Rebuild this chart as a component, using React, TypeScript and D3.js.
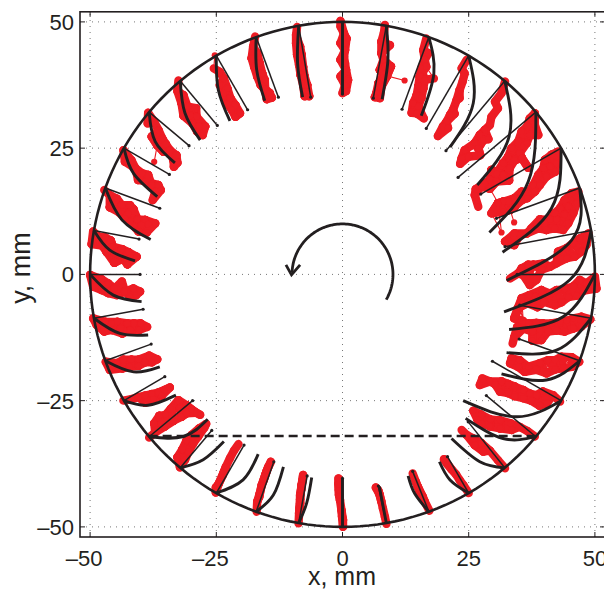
import React from "react";
import * as d3 from "d3";

type P = [number, number];

const xTicks = [-50, -25, 0, 25, 50];
const yTicks = [-50, -25, 0, 25, 50];
const rimRadius = 50;
const dashY = -32;
const dashHalf = 38.4;

const vaneAngles = [90,80,70,60,50,40,30,20,10,0,-10,-20,-30,-40,-50,-60,-70,-80,-90,-100,-110,-120,-130,-140,-150,-160,-170,180,170,160,150,140,130,120,110,100];
const chordEnds: P[] = [[0,35.7],[6.1,34.9],[11.8,32.7],[16.6,28.9],[20.5,24.5],[22.9,19.2],[27.4,15.9],[30.5,11.1],[32.2,5.5],[34.6,0],[35.1,-6.1],[35,-12.8],[29.7,-17.2],[28.5,-24],[24.9,-29.2],[20.8,-36.1],[13.9,-39],[7.1,-41.9],[0,-40.4],[-7,-39.9],[-13.6,-37.1],[-19.5,-33.8],[-25.9,-30.9],[-29.7,-25],[-35.2,-20.25],[-37.9,-13.8],[-39.5,-6.9],[-40.1,0],[-40.3,7],[-36.2,13.1],[-34.3,19.8],[-30.4,25.5],[-24.8,29.5],[-18.8,32.6],[-12.7,35.1],[-6.3,35.1]];
const bladeMids: P[] = [[0,43],[9,42.5],[18.1,39.8],[25.9,33.9],[33,27.3],[36.8,18.4],[41.4,13.1],[45.4,6.8],[45,-1.1],[43.7,-8.4],[42.4,-15],[40.4,-20.9],[34.5,-28.2],[31.8,-32.5],[27.2,-37.1],[21.3,-40.7],[14.3,-43.4],[8,-45.7],[0,-45],[-7.1,-45.3],[-13.7,-43.7],[-19.7,-40.7],[-27.6,-36.7],[-31.5,-32.1],[-38.5,-25.9],[-41.4,-19.3],[-44.1,-11.7],[-45.4,-4.1],[-46.1,4.8],[-43.7,10.8],[-41.4,20],[-37.1,26.3],[-31.2,31.9],[-24.6,36.5],[-17,40.5],[-8.9,41.8]];
const bladeEnds: P[] = [[0,35.7],[7.85,34.7],[15.6,31.4],[21.3,25.2],[26.7,17.7],[29.1,8.3],[31.7,4.4],[32.5,-1.2],[32,-7.4],[33,-10.9],[32.5,-15.5],[31.5,-19.7],[23.9,-25],[24.4,-28.5],[21.6,-32.5],[19.2,-37.1],[13,-39.9],[7.3,-42],[0,-40.4],[-6.1,-40.2],[-11.7,-38.1],[-16.7,-35.6],[-23.5,-33.1],[-26.7,-28.7],[-33,-23.9],[-36.2,-18.3],[-38.5,-12],[-39.8,-5.4],[-41.1,2.7],[-38,6.9],[-36.7,15.4],[-33.2,22.1],[-28.2,26.6],[-22.3,30.4],[-15.4,34.4],[-7.9,35.1]];

const s90: P[] = [[-0.4,50.2],[-0.4,49.1],[0.3,47.7],[0.8,46.7],[0.3,45.8],[-0.4,45.8],[0.5,44.4],[0.3,43.1],[-0.4,42.5],[0.5,41.8],[0.7,40.5],[-0.4,39.2],[1.1,38.5],[0.5,37.5],[0.7,36.3],[0,35.9]];
const s80: P[] = [[8.4,49.4],[7.7,46.1],[9.4,45.4],[8.4,45.1],[7.7,43.8],[8.1,42.5],[8.4,41.1],[9.6,41.2],[8.4,41.1],[7.4,40.5],[8.1,39.5],[8.8,39.3],[12.3,38.4],[8.8,39.3],[7.1,37.8],[7.7,37.2],[6.7,35.9],[7.4,34.9],[6.4,35.1],[8.2,47.8]];
const s70: P[] = [[16.6,46.7],[16,44.4],[17,43.8],[16.3,42.5],[15.6,40.8],[16.6,41.1],[18.1,38.8],[15.3,39.2],[16.3,38.5],[15,37.2],[16,36.8],[14.7,35.5],[15.6,34.9],[14,33.9],[15,33.2],[13.7,32],[14.7,31.9],[16.1,30.9]];
const s60: P[] = [[24.6,42.5],[23.6,40.8],[24.2,39.8],[23.8,38.2],[23.2,36.5],[23.2,34.9],[22.6,34.5],[21.9,32.6],[22.2,31.8],[21.3,31.6],[20.6,30.2],[19.9,29.3],[20.9,29],[18.9,27.4]];
const s50: P[] = [[32.2,38.2],[31.5,35.9],[30.2,34.2],[30.8,32.9],[29.5,31.2],[29.2,29.6],[28.2,28.6],[27.2,27.6],[27.9,26.6],[28.9,26.8],[26.2,26],[26.9,25],[27.3,23.6],[26.9,25],[24.2,24.6],[24.9,23.3],[23.6,23],[23.3,21.9]];
const s40: P[] = [[38.1,31.9],[37.1,30.9],[38.1,29.6],[38.8,27.6],[36.6,29.3],[35.5,28.3],[37.1,27.6],[34.8,26.3],[36.5,26],[33.5,25],[35.1,24],[32.8,23.3],[34.1,22.6],[35.5,23.1],[36.8,21.1],[35.5,23.1],[31.8,22],[33.1,21],[30.5,20],[31.8,19.7],[33,18.6],[31.8,19.7],[29.5,20.7],[29.2,18.7],[30.5,18.4],[28.2,18],[29.2,17],[30.8,14.2],[29.2,17],[26.4,16.9],[27.5,17.4],[26.2,15.7],[26.9,13.4]];
const s30: P[] = [[42.7,24.3],[41.4,23.7],[40.1,22.7],[42.4,22],[41.1,21.3],[39.8,21],[42.1,20.3],[40.4,19.4],[38.8,19.7],[39.1,17.7],[37.8,17.7],[36.8,16.1],[38.1,16.4],[35.5,16.4],[35.5,14.7],[36.6,15.1],[34.1,15.1],[34.1,13.4],[32.8,14.4],[33.2,12.8],[34,10.3],[33.2,12.8],[31.8,14.4],[30.8,14.1],[31.8,12.4],[29.5,12.1],[31.5,8.3],[30.8,14.1]];
const s20: P[] = [[46.7,16.4],[45.4,16.1],[44,14.7],[46.4,14.1],[44.7,13.4],[43.1,13.1],[45.7,12.1],[44,11.8],[42,12.1],[42.4,10.8],[41.1,10.8],[44.7,10.1],[40.1,10.1],[39.1,10.9],[43.7,8.8],[42,9.1],[40.4,8.8],[38.8,9.1],[37.4,9.1],[36.5,8.1],[35.1,7.8],[34.1,8.1],[32.8,6.5],[32.2,6.5],[34,5.8]];
const s10: P[] = [[48.7,8.1],[47,7.1],[48.3,5.8],[45.7,6.2],[47.3,4.5],[44.4,5.2],[46,3.5],[42.7,4.5],[44.4,3.2],[42.4,2.2],[41.1,1.5],[39.8,2.2],[39.4,0.9],[37.8,1.9],[36.8,1.9],[35.5,1.2],[36.8,0.2],[34.8,0.2],[38.4,-1.1],[37.1,-2.1],[35.8,-0.1],[33.2,-0.8]];
const s0: P[] = [[50,-0.45],[50.3,-2.8],[48.3,-1.8],[47,-1.1],[47.8,-3.2],[45.7,-2.4],[46.4,-4.2],[44,-2.9],[44.7,-4.5],[42.4,-3.1],[43.4,-5.5],[41.1,-3.8],[42.1,-6.1],[39.4,-3.1],[39.9,-5.4],[38.1,-4.4],[37,-4.1],[38.6,-6.5],[36.6,-5.7],[35.5,-4.7],[35.8,-9.2],[35.1,-6.4],[34,-8.7],[34.7,-6.7]];
const sM10: P[] = [[49.1,-8.9],[47.3,-8.4],[45.7,-8.7],[47.3,-10.3],[44.4,-9.2],[45.7,-10.7],[43.1,-9.4],[44,-11.3],[41.4,-9.7],[42.4,-11.1],[39.7,-9.7],[40.7,-11.3],[39.4,-13],[39.1,-11],[38.4,-9.6],[37.6,-11.3],[37.6,-13.1],[36.8,-9.7],[35.8,-10.7],[34.6,-10.4],[34,-12.5],[33.7,-13.7]];
const sM20: P[] = [[46.9,-17.3],[45.4,-16.4],[43.4,-16.3],[45.4,-18.3],[42.1,-17],[43.7,-18.6],[40.7,-17],[42.1,-18.8],[39.1,-17.6],[40.4,-19.6],[38.4,-18.9],[36.8,-18.3],[36.1,-19.3],[35.1,-17],[34.8,-18.3],[33.5,-16.6],[33.2,-17.6]];
const sM30: P[] = [[43.1,-25.2],[41.7,-23.9],[39.7,-23.2],[40.5,-25.5],[38.4,-23.9],[39,-26],[37.1,-23.6],[37.4,-25],[35.8,-22.9],[35.8,-24.5],[34.1,-22.2],[34.1,-24.1],[32.8,-21.7],[32.8,-23.5],[31.5,-21.2],[31.2,-23.2],[30.2,-21.7],[29.2,-21.2],[27.7,-20.6],[27.2,-21.9]];
const sM40: P[] = [[38.1,-32.1],[36.6,-31],[35.1,-30.2],[33.3,-29.5],[33.5,-30.8],[31.2,-28.9],[31.2,-30.5],[29.2,-28.7],[29.2,-30.1],[27.5,-27.8],[27.5,-29.5],[25.9,-27],[26.7,-28.7]];
const sM50: P[] = [[32.2,-38.4],[30.8,-36.8],[29.2,-34.9],[27.9,-35.1],[27.5,-33.4],[26.2,-33.8],[25.9,-32.5],[24.6,-31.8],[23.6,-30.8]];
const sM60: P[] = [[25,-43.3],[24,-41.8],[23.2,-40.7],[22.5,-39.6],[21.6,-38.6],[20.7,-37.5],[20.1,-36.6]];
const sM70: P[] = [[17.2,-46.8],[16.3,-45],[15.9,-44],[15.3,-43],[14.9,-42],[14.5,-41],[13.9,-39.4]];
const sM80: P[] = [[8.7,-49.4],[8.4,-48],[8,-46.3],[7.7,-45],[7.4,-43.7],[7.1,-42.8],[6.6,-42.2]];
const sM90: P[] = [[0.1,-50],[0.1,-48.6],[-0.1,-47.9],[-0.2,-46.7],[-0.5,-44.7],[-0.7,-43.7],[-0.7,-42.7],[-0.8,-41.4],[-0.8,-40.4]];
const sM100: P[] = [[-8.7,-49.3],[-8.6,-47.3],[-8.5,-46.3],[-8.4,-45.3],[-8.4,-44.5],[-8.4,-43.7],[-8.2,-42.7],[-8.1,-41.7],[-7.9,-40.7],[-7.8,-39.7]];
const sM110: P[] = [[-17,-47],[-16.9,-45],[-16.5,-44.1],[-16.4,-43.4],[-16,-41.7],[-15.6,-40.7],[-15.3,-39.7],[-15,-38.9],[-14.7,-38.1],[-14.2,-37.1]];
const sM120: P[] = [[-25.1,-43.2],[-25.1,-42.2],[-24.5,-41.4],[-23.7,-39.7],[-23.5,-39.1],[-23.1,-38.1],[-22.3,-36.4],[-21.5,-34.9],[-20.6,-33.6]];
const sM130: P[] = [[-32.2,-38.2],[-32.7,-36.2],[-31.2,-36.7],[-31.7,-34.6],[-30.5,-35.1],[-30.9,-32.9],[-29.6,-33.5],[-29.9,-31.8],[-28.6,-32.1],[-28.4,-30.5],[-27.4,-30.4],[-27,-29.6]];
const sM140: P[] = [[-38.3,-32.3],[-37.1,-31.3],[-37.3,-29.5],[-36,-29.5],[-36.3,-28],[-35,-27.8],[-35.2,-30.1],[-34,-26.6],[-33.5,-29],[-31.9,-28.2],[-32.5,-24.9],[-30.9,-25.9],[-32.2,-26.5],[-29.9,-26.8],[-30.9,-27.5],[-29,-27.4],[-28.2,-27.8]];
const sM150: P[] = [[-43.4,-25],[-41.8,-24.7],[-40.4,-24.3],[-39.1,-24],[-39.1,-25.4],[-37.8,-23.7],[-37.5,-24.7],[-36.5,-23.4],[-35.8,-24],[-35.2,-22.9],[-34.2,-22.4]];
const sM160: P[] = [[-46.9,-17.3],[-46.1,-18.9],[-44.7,-17.6],[-43.4,-16.9],[-43.6,-18.6],[-41.8,-16.9],[-42.1,-18.3],[-40.4,-16.9],[-40.4,-18.1],[-39.1,-17.4],[-38.3,-16.1],[-37.8,-17.4],[-36.7,-16.8]];
const sM170: P[] = [[-49.4,-8.7],[-48.7,-10],[-47,-9.4],[-47.2,-11.3],[-45.7,-9.7],[-44.6,-9.4],[-45.6,-11],[-43.9,-10.7],[-42.6,-9.7],[-43.6,-11.7],[-42,-11],[-41.3,-9.7],[-40.3,-11],[-40,-9.7],[-38.7,-10.4]];
const s180: P[] = [[-50,-0.1],[-49,-0.8],[-49.4,-2.4],[-47.7,-1],[-47.7,-3.1],[-46.4,-1.8],[-46.4,-3.7],[-45.1,-2.8],[-43.7,-1.4],[-44.7,-4.1],[-43.1,-3.4],[-42.1,-4.4],[-41.4,-2.8],[-40.9,-4.1],[-40.1,-3.4]];
const s170: P[] = [[-49.4,8.5],[-49.7,6],[-48.4,7.5],[-47,7.3],[-47.6,5.7],[-45.9,6.7],[-45.6,5.5],[-46.7,4.4],[-45.1,4.3],[-45.2,2.3],[-45.1,4.3],[-43.7,5],[-44.1,3.8],[-42.4,4.4],[-43.1,3.4],[-42.6,2],[-43.1,3.4],[-42,3.4],[-40.8,3.5]];
const s160: P[] = [[-47.2,16.7],[-46.1,15.7],[-44.7,15],[-46.1,13.3],[-43.7,13.7],[-42.1,13.7],[-44.4,12.4],[-42.4,12.1],[-41.4,12.9],[-43.1,11.1],[-42.1,10.4],[-40.6,10.9],[-40.4,8.5],[-39.8,9.8],[-39.1,10.8],[-38.8,8.3],[-38.5,10],[-37.1,10.1]];
const s150: P[] = [[-43.4,24.6],[-43.1,22.3],[-41.8,22.6],[-41,21],[-39.7,20],[-40.5,18.7],[-39,18.4],[-38.5,19.7],[-37.8,17.7],[-36.5,17.7],[-36,16.7],[-37.1,16.4],[-37.6,14.7]];
const s140: P[] = [[-38.5,32],[-38.6,29.9],[-37.3,30.2],[-37.8,27.3],[-36.4,28.5],[-35.7,26.9],[-36.7,25.6],[-37.3,22.3],[-36.7,25.6],[-35,25.8],[-34.2,24.6],[-35.5,24.3],[-32.9,23.6],[-33.5,22.6],[-32.7,22.1],[-33.4,21.3]];
const s130: P[] = [[-32.5,38.4],[-32.7,36.3],[-31.5,35.5],[-31.9,33.9],[-30.7,33.2],[-29,32.9],[-31.5,31.4],[-30.1,31.4],[-28.9,31.2],[-29.7,29.9],[-28.4,29.3],[-27.2,29.3],[-28.8,28.3],[-27.7,27.6]];
const s120: P[] = [[-25.3,43.4],[-25.5,40.8],[-24.3,40.1],[-23.5,38.8],[-24.3,37.5],[-22.8,36.8],[-23.5,35.9],[-22.2,34.9],[-22.8,33.7],[-21.2,33.5],[-21.9,32.6],[-20.3,31.9],[-21.2,31.2]];
const s110: P[] = [[-17.3,47.1],[-17.7,45.1],[-18,42.8],[-16.9,43.8],[-17.5,41.1],[-16.4,41.8],[-15.9,39.8],[-16.9,39.2],[-15.4,38.5],[-16.2,37.5],[-15.3,36.5],[-14.4,35.9],[-15,34.7],[-14,35]];
const s100: P[] = [[-9,49],[-9.2,47.4],[-9.2,45.8],[-8.4,45.1],[-9,43.5],[-8.1,43.5],[-8.6,41.5],[-7.8,41.1],[-8.3,39.5],[-7.5,39.2],[-7.8,37.5],[-7,37.5],[-7.3,36.2],[-6.6,35.3],[-7.5,35.3]];

const clouds: P[][] = [s90,s80,s70,s60,s50,s40,s30,s20,s10,s0,sM10,sM20,sM30,sM40,sM50,sM60,sM70,sM80,sM90,sM100,sM110,sM120,sM130,sM140,sM150,sM160,sM170,s180,s170,s160,s150,s140,s130,s120,s110,s100];

const arrowArc = { radius: 10, startDeg: -30, endDeg: 178 };
const arrowBarbs: P[] = [[-11.2, 1.9], [-10.1, -0.1], [-8.4, 1.9]];

const INK = "#231f20";
const RED = "#ed1c24";
const FONT = "'Liberation Sans', Arial, sans-serif";
const MARKER_R = 3.1;
const BAND_W = 8.4;
const MERGE_MM = 2.6;

const x = d3.scaleLinear().domain([-52, 52]).range([80, 605]);
const y = d3.scaleLinear().domain([-52, 52]).range([537, 11.8]);

const toPx = (p: P): P => [x(p[0]), y(p[1])];
const polar = (r: number, deg: number): P => [r * Math.cos((deg * Math.PI) / 180), r * Math.sin((deg * Math.PI) / 180)];
const straight = d3.line<P>().x((d) => x(d[0])).y((d) => y(d[1]));
const bent = d3.line<P>().x((d) => x(d[0])).y((d) => y(d[1])).curve(d3.curveNatural);
const fmt = (v: number) => (v < 0 ? "\u2013" + Math.abs(v) : String(v));

// Markers that sit close together read as one solid band: bridge neighbouring
// measured points, so that isolated points still stand apart as in the original.
function bridges(pts: P[]): [P, P][] {
  const out: [P, P][] = [];
  pts.forEach((a, i) => {
    pts.slice(i + 1).forEach((b) => {
      if (Math.hypot(a[0] - b[0], a[1] - b[1]) < MERGE_MM) out.push([a, b]);
    });
  });
  return out;
}

export default function App() {
  const rimPts = d3.range(0, 361, 2).map((a) => polar(rimRadius, a));
  const arcPts = d3.range(arrowArc.startDeg, arrowArc.endDeg + 1, 2).map((a) => polar(arrowArc.radius, a));
  return (
    <svg width={604} height={590} style={{ position: "absolute", left: 0, top: 0, background: "#fff" }} fontFamily={FONT}>
      <g stroke="#777" strokeWidth={1} strokeDasharray="1 5">
        {xTicks.map((t) => <line key={t} x1={x(t)} x2={x(t)} y1={y(-52)} y2={y(52)} />)}
        {yTicks.map((t) => <line key={t} y1={y(t)} y2={y(t)} x1={x(-52)} x2={x(52)} />)}
      </g>
      <g stroke={INK} strokeWidth={1}>
        {xTicks.map((t) => (
          <g key={t}>
            <line x1={x(t)} x2={x(t)} y1={y(-52)} y2={y(-52) - 5} />
            <line x1={x(t)} x2={x(t)} y1={y(52)} y2={y(52) + 5} />
          </g>
        ))}
        {yTicks.map((t) => (
          <g key={t}>
            <line y1={y(t)} y2={y(t)} x1={x(-52)} x2={x(-52) + 5} />
            <line y1={y(t)} y2={y(t)} x1={x(52)} x2={x(52) - 5} />
          </g>
        ))}
      </g>
      <rect x={x(-52)} y={y(52)} width={x(52) - x(-52)} height={y(-52) - y(52)} fill="none" stroke={INK} strokeWidth={1.6} />

      {clouds.map((pts, i) => (
        <g key={i}>
          <path d={straight(pts) ?? ""} fill="none" stroke={RED} strokeWidth={1.1} />
          {bridges(pts).map((b, j) => (
            <path key={j} d={straight(b) ?? ""} fill="none" stroke={RED} strokeWidth={BAND_W} strokeLinecap="round" />
          ))}
          {pts.map((p, j) => <circle key={j} cx={toPx(p)[0]} cy={toPx(p)[1]} r={MARKER_R} fill={RED} />)}
        </g>
      ))}

      <path d={straight(rimPts) ?? ""} fill="none" stroke={INK} strokeWidth={2.6} />
      {vaneAngles.map((a, i) => {
        const rim = polar(rimRadius, a);
        const end = toPx(chordEnds[i]);
        return (
          <g key={a}>
            <path d={straight([rim, chordEnds[i]]) ?? ""} fill="none" stroke={INK} strokeWidth={1.5} />
            <circle cx={end[0]} cy={end[1]} r={1.6} fill={INK} />
            <path d={bent([rim, bladeMids[i], bladeEnds[i]]) ?? ""} fill="none" stroke={INK} strokeWidth={2.9} />
          </g>
        );
      })}

      <line x1={x(-dashHalf)} x2={x(dashHalf)} y1={y(dashY)} y2={y(dashY)} stroke={INK} strokeWidth={2.7} strokeDasharray="9 5" />
      <path d={straight(arcPts) ?? ""} fill="none" stroke={INK} strokeWidth={2.8} />
      <path d={straight(arrowBarbs) ?? ""} fill="none" stroke={INK} strokeWidth={2.8} />

      <g fontSize={22} fill={INK}>
        {xTicks.map((t) => <text key={t} x={t < 0 ? x(t) - 6 : x(t)} y={566} textAnchor="middle">{fmt(t)}</text>)}
        {yTicks.map((t) => <text key={t} x={74} y={y(t) + 8} textAnchor="end">{fmt(t)}</text>)}
      </g>
      <text x={342} y={585} textAnchor="middle" fontSize={25} fill={INK}>x, mm</text>
      <text transform="translate(30,268) rotate(-90)" textAnchor="middle" fontSize={27} fill={INK}>y, mm</text>
    </svg>
  );
}
